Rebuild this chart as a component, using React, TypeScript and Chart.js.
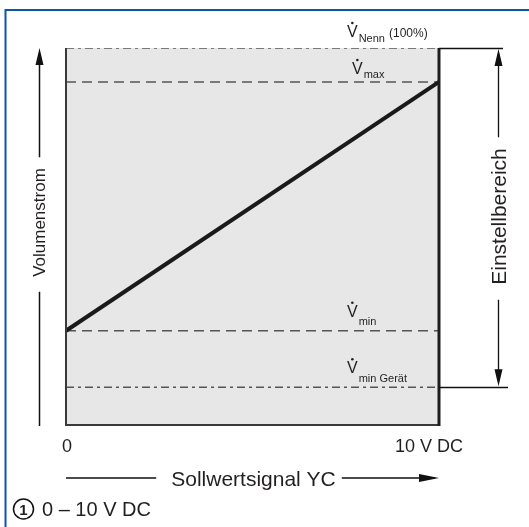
import React, { useEffect, useRef } from 'react';
import { Chart, registerables } from 'chart.js';

Chart.register(...registerables);

// ---- data ----
const signalX = [0, 10];
const flowY = [25, 91];
const xTickValues = [0, 10];
const xTickLabels = ['0', '10 V DC'];
const refValues = [100, 91, 25, 10];
const refSubs = ['Nenn', 'max', 'min', 'min Gerät'];
const refExtras = ['(100%)', '', '', ''];
const xTitle = 'Sollwertsignal YC';
const yTitle = 'Volumenstrom';
const rangeTitle = 'Einstellbereich';
const footnoteNo = '1';
const footnote = '0 – 10 V DC';

const FONT = '"Liberation Sans", Arial, Helvetica, sans-serif';
const TEXT = '#231f20';
const GREY_LINE = '#555555';

// style per reference line: dash pattern and label offsets
const refStyles = [
  { dash: [8, 4, 3, 4], vx: -92, vBase: -11, subBase: -6, extraBase: -11, ext: 64 },
  { dash: [10, 6], vx: -87, vBase: -8, subBase: -4, extraBase: 0, ext: 0 },
  { dash: [10, 6], vx: -92, vBase: -14, subBase: -6, extraBase: 0, ext: 0 },
  { dash: [8, 4, 3, 4], vx: -92, vBase: -14, subBase: -5, extraBase: 0, ext: 69 },
];

function arrowHeadV(ctx: CanvasRenderingContext2D, x: number, tipY: number, dir: number) {
  const len = 17, hw = 4;
  ctx.beginPath();
  ctx.moveTo(x, tipY);
  ctx.lineTo(x - hw, tipY + dir * len);
  ctx.lineTo(x + hw, tipY + dir * len);
  ctx.closePath();
  ctx.fill();
}

function arrowHeadH(ctx: CanvasRenderingContext2D, tipX: number, y: number) {
  const len = 20, hw = 4;
  ctx.beginPath();
  ctx.moveTo(tipX, y);
  ctx.lineTo(tipX - len, y - hw);
  ctx.lineTo(tipX - len, y + hw);
  ctx.closePath();
  ctx.fill();
}

const diagramPlugin = {
  id: 'diagram',
  beforeDatasetsDraw(chart: any) {
    const { ctx, chartArea: a } = chart;
    ctx.save();
    ctx.fillStyle = '#e6e7e6';
    ctx.fillRect(a.left, a.top, a.right - a.left, a.bottom - a.top);
    ctx.restore();
  },
  afterDatasetsDraw(chart: any) {
    const { ctx, chartArea: a, scales } = chart;
    const xs = scales.x;
    const ys = scales.y;
    ctx.save();

    // plot borders
    ctx.strokeStyle = '#3a3a3a';
    ctx.lineWidth = 2;
    ctx.beginPath();
    ctx.moveTo(a.left, a.top);
    ctx.lineTo(a.left, a.bottom);
    ctx.lineTo(a.right, a.bottom);
    ctx.stroke();
    ctx.strokeStyle = '#1e1e1e';
    ctx.lineWidth = 3;
    ctx.beginPath();
    ctx.moveTo(a.right, a.top);
    ctx.lineTo(a.right, a.bottom + 1);
    ctx.stroke();

    // extension lines of the reference lines
    ctx.strokeStyle = '#111';
    ctx.lineWidth = 1.3;
    refValues.forEach((v, i) => {
      const st = refStyles[i];
      if (!st.ext) return;
      const y = Math.round(ys.getPixelForValue(v)) + 0.5;
      ctx.beginPath();
      ctx.moveTo(a.right, y);
      ctx.lineTo(a.right + st.ext, y);
      ctx.stroke();
    });

    // reference labels
    ctx.fillStyle = TEXT;
    ctx.textBaseline = 'alphabetic';
    ctx.textAlign = 'left';
    refValues.forEach((v, i) => {
      const st = refStyles[i];
      const y = ys.getPixelForValue(v);
      const xl = a.right + st.vx;
      ctx.font = `16px ${FONT}`;
      ctx.fillText('V', xl, y + st.vBase);
      const vw = ctx.measureText('V').width;
      ctx.beginPath();
      ctx.arc(xl + vw / 2, y + st.vBase - 14, 1.3, 0, Math.PI * 2);
      ctx.fill();
      ctx.font = `11px ${FONT}`;
      ctx.fillText(refSubs[i], xl + vw + 1, y + st.subBase);
      const sw = ctx.measureText(refSubs[i]).width;
      if (refExtras[i]) {
        ctx.font = `12px ${FONT}`;
        ctx.fillText(refExtras[i], xl + vw + 1 + sw + 4, y + st.extraBase);
      }
    });

    // x tick labels
    ctx.font = `18px ${FONT}`;
    xTickValues.forEach((v, i) => {
      const px = xs.getPixelForValue(v);
      if (i === 0) {
        ctx.textAlign = 'center';
        ctx.fillText(xTickLabels[i], px + 1, a.bottom + 27);
      } else {
        ctx.textAlign = 'right';
        ctx.fillText(xTickLabels[i], px + 24, a.bottom + 27);
      }
    });

    // x title with arrow
    const ty = a.bottom + 53;
    ctx.font = `21px ${FONT}`;
    ctx.textAlign = 'center';
    const tw = ctx.measureText(xTitle).width;
    const tcx = 253.5;
    ctx.fillText(xTitle, tcx, ty + 8);
    ctx.strokeStyle = '#111';
    ctx.lineWidth = 1.5;
    ctx.beginPath();
    ctx.moveTo(a.left, ty);
    ctx.lineTo(tcx - tw / 2 - 15, ty);
    ctx.moveTo(tcx + tw / 2 + 6, ty);
    ctx.lineTo(a.right - 4, ty);
    ctx.stroke();
    ctx.fillStyle = '#111';
    arrowHeadH(ctx, a.right, ty);

    // y title with arrow (left)
    const lx = 39.5;
    ctx.font = `17px ${FONT}`;
    const yw = ctx.measureText(yTitle).width;
    const ycy = 222.5;
    ctx.beginPath();
    ctx.moveTo(lx, a.top + 10);
    ctx.lineTo(lx, ycy - yw / 2 - 11);
    ctx.moveTo(lx, ycy + yw / 2 + 15);
    ctx.lineTo(lx, a.bottom + 1);
    ctx.stroke();
    arrowHeadV(ctx, lx, a.top, 1);
    ctx.save();
    ctx.translate(lx + 5, ycy);
    ctx.rotate(-Math.PI / 2);
    ctx.textAlign = 'center';
    ctx.fillStyle = TEXT;
    ctx.fillText(yTitle, 0, 0);
    ctx.restore();

    // range arrow (right)
    const rx = 498.5;
    const yTop = ys.getPixelForValue(refValues[0]);
    const yBot = ys.getPixelForValue(refValues[3]);
    ctx.font = `21px ${FONT}`;
    const rw = ctx.measureText(rangeTitle).width;
    const rcy = 216.5;
    ctx.lineWidth = 1.3;
    ctx.beginPath();
    ctx.moveTo(rx, yTop + 10);
    ctx.lineTo(rx, rcy - rw / 2 - 11);
    ctx.moveTo(rx, rcy + rw / 2 + 15);
    ctx.lineTo(rx, yBot - 10);
    ctx.stroke();
    arrowHeadV(ctx, rx, yTop + 1, 1);
    arrowHeadV(ctx, rx, yBot - 1, -1);
    ctx.save();
    ctx.translate(rx + 7, rcy);
    ctx.rotate(-Math.PI / 2);
    ctx.textAlign = 'center';
    ctx.fillStyle = TEXT;
    ctx.fillText(rangeTitle, 0, 0);
    ctx.restore();

    // footnote
    ctx.strokeStyle = '#111';
    ctx.lineWidth = 1.5;
    ctx.beginPath();
    ctx.arc(23.5, 509, 10, 0, Math.PI * 2);
    ctx.stroke();
    ctx.fillStyle = TEXT;
    ctx.font = `bold 15px ${FONT}`;
    ctx.textAlign = 'center';
    ctx.fillText(footnoteNo, 23.5, 514.5);
    ctx.font = `20px ${FONT}`;
    ctx.textAlign = 'left';
    ctx.fillText(footnote, 42, 516);

    // blue frame
    ctx.strokeStyle = '#0a56a8';
    ctx.lineWidth = 2;
    ctx.beginPath();
    ctx.moveTo(5.5, 527);
    ctx.lineTo(5.5, 10);
    ctx.lineTo(529, 10);
    ctx.stroke();

    ctx.restore();
  },
};

export default function App() {
  const ref = useRef<HTMLCanvasElement | null>(null);
  useEffect(() => {
    if (!ref.current) return;
    const refDatasets = refValues.map((v, i) => ({
      label: refSubs[i],
      data: signalX.map((x) => ({ x, y: v })),
      borderColor: GREY_LINE,
      borderWidth: 1.5,
      borderDash: refStyles[i].dash,
      pointRadius: 0,
      order: 2,
    }));
    const chart = new Chart(ref.current, {
      type: 'line',
      data: {
        datasets: [
          {
            label: 'Volumenstrom',
            data: signalX.map((x, i) => ({ x, y: flowY[i] })),
            borderColor: '#1a1a1a',
            borderWidth: 4,
            pointRadius: 0,
            order: 1,
          },
          ...refDatasets,
        ],
      },
      options: {
        animation: false,
        responsive: false,
        devicePixelRatio: 1,
        layout: { padding: { left: 66, right: 90, top: 48, bottom: 102 } },
        plugins: { legend: { display: false }, tooltip: { enabled: false } },
        scales: {
          x: { type: 'linear', min: 0, max: 10, display: false },
          y: { type: 'linear', min: 0, max: 100, display: false },
        },
      },
      plugins: [diagramPlugin],
    });
    return () => chart.destroy();
  }, []);
  return (
    <div style={{ position: 'absolute', left: 0, top: 0, width: 529, height: 527, background: '#fff' }}>
      <canvas ref={ref} width={529} height={527} style={{ display: 'block', width: 529, height: 527 }} />
    </div>
  );
}
